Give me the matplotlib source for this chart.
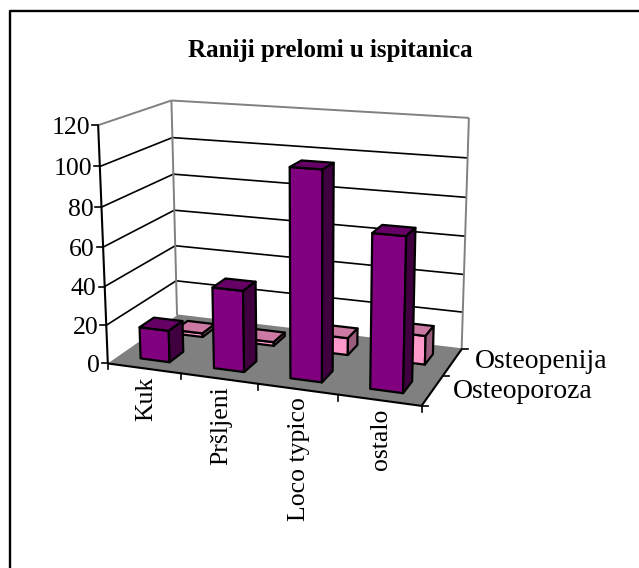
#Excel style 3D column chart, drawn on a plain axes through a fitted projection
import numpy as np
import matplotlib
matplotlib.use('Agg')
import matplotlib.pyplot as plt
from matplotlib.patches import Polygon

plt.rcParams['font.family'] = ['Liberation Serif', 'DejaVu Sans']

#Chart data
categories = ['Kuk', 'Pršljeni', 'Loco typico', 'ostalo']
series_names = ['Osteoporoza', 'Osteopenija']
osteoporoza = [16.5, 41.5, 104, 76]
osteopenija = [2, 2, 9, 15]
value_ticks = [0, 20, 40, 60, 80, 100, 120]
chart_title = 'Raniji prelomi u ispitanica'

#Colours (front, top, side)
purple = ('#800080', '#660066', '#400040')
pink = ('#FF99CC', '#CC7AA3', '#995C7A')

#Corners of the plot box: (category, depth, value) -> pixel
n_cat = len(categories)
n_ser = len(series_names)
v_max = value_ticks[-1]
box = [((0, 0, 0), (108, 364)),
       ((n_cat, 0, 0), (421, 406)),
       ((n_cat, n_ser, 0), (462, 349)),
       ((0, n_ser, 0), (177, 315)),
       ((0, 0, v_max), (98.5, 124.5)),
       ((0, n_ser, v_max), (171, 101)),
       ((n_cat, n_ser, v_max), (469, 118))]


def fit_camera(pairs):
    #Least squares fit of a 3x4 projective matrix
    A, b = [], []
    for (x, y, z), (u, v) in pairs:
        A.append([x, y, z, 1, 0, 0, 0, 0, -u*x, -u*y, -u*z])
        A.append([0, 0, 0, 0, x, y, z, 1, -v*x, -v*y, -v*z])
        b += [u, v]
    p = np.linalg.lstsq(np.array(A, float), np.array(b, float), rcond=None)[0]
    return np.append(p, 1).reshape(3, 4)


P = fit_camera(box)


def pr(x, y, z):
    q = P @ np.array([x, y, z, 1.0])
    return q[0]/q[2], q[1]/q[2]


fig = plt.figure(figsize=(6.39, 5.68), dpi=100)
ax = fig.add_axes([0, 0, 1, 1])
ax.set_xlim(0, 639)
ax.set_ylim(568, 0)
ax.axis('off')


def face(points, color, z=2, lw=1.6):
    ax.add_patch(Polygon([pr(*p) for p in points], closed=True, facecolor=color,
                         edgecolor='black', linewidth=lw, joinstyle='round', zorder=z))


def line3d(a, b, color='black', lw=1.2, z=1):
    p, q = pr(*a), pr(*b)
    ax.plot([p[0], q[0]], [p[1], q[1]], color=color, linewidth=lw, zorder=z,
            solid_capstyle='butt')


def bar(cat, slot, value, colors):
    x0, x1 = cat + 0.3, cat + 0.7
    y0, y1 = slot + 0.3, slot + 0.7
    z = 3 + slot*-1 + 1
    face([(x0, y0, 0), (x1, y0, 0), (x1, y0, value), (x0, y0, value)], colors[0], z)
    face([(x0, y0, value), (x1, y0, value), (x1, y1, value), (x0, y1, value)], colors[1], z)
    face([(x1, y0, 0), (x1, y1, 0), (x1, y1, value), (x1, y0, value)], colors[2], z)


#Frame, only top and left are inside the picture
ax.plot([639, 10, 10], [10.5, 10.5, 568], color='black', linewidth=1.7, zorder=0)

#Floor
ax.add_patch(Polygon([pr(0, 0, 0), pr(n_cat, 0, 0), pr(n_cat, n_ser, 0), pr(0, n_ser, 0)],
                     closed=True, facecolor='#808080', edgecolor='none', zorder=1))

#Gridlines on both walls
for v in value_ticks[1:-1]:
    line3d((0, 0, v), (0, n_ser, v))
    line3d((0, n_ser, v), (n_cat, n_ser, v))

#Wall edges
line3d((0, 0, v_max), (0, n_ser, v_max), color='#808080', lw=1.4)
line3d((0, n_ser, v_max), (n_cat, n_ser, v_max), color='#808080', lw=1.4)
line3d((0, n_ser, 0), (0, n_ser, v_max), color='#808080', lw=1.4)
line3d((n_cat, n_ser, 0), (n_cat, n_ser, v_max), color='#808080', lw=1.4)
line3d((0, n_ser, 0), (n_cat, n_ser, 0), color='#808080', lw=1.4)

#Bars, back row first
for i in range(n_cat):
    bar(i, 1, osteopenija[i], pink)
for i in range(n_cat):
    bar(i, 0, osteoporoza[i], purple)

#Axis lines
line3d((0, 0, 0), (0, 0, v_max), lw=1.5, z=8)
line3d((0, 0, 0), (n_cat, 0, 0), lw=1.5, z=8)
line3d((n_cat, 0, 0), (n_cat, n_ser, 0), lw=1.5, z=8)

#Value axis ticks and labels
for v in value_ticks:
    px, py = pr(0, 0, v)
    ax.plot([px - 6, px], [py, py], color='black', linewidth=1.2, zorder=8)
    ax.text(px - 8, py, str(v), fontsize=18.5, ha='right', va='center_baseline', zorder=9)

#Category ticks and labels
for i in range(n_cat + 1):
    px, py = pr(i, 0, 0)
    ax.plot([px, px], [py, py + 6], color='black', linewidth=1.2, zorder=8)
for i, name in enumerate(categories):
    px, py = pr(i + 0.5, 0, 0)
    ax.text(px + 2, py + 8, name, fontsize=18.5, rotation=90, ha='center', va='top', zorder=9)

#Series ticks and labels
for j in range(n_ser + 1):
    px, py = pr(n_cat, j, 0)
    ax.plot([px, px + 6], [py, py], color='black', linewidth=1.2, zorder=8)
label_x = [453, 475]
label_y = [392, 361]
for j, name in enumerate(series_names):
    ax.text(label_x[j], label_y[j], name, fontsize=20, ha='left', va='center', zorder=9)

ax.text(330, 50, chart_title, fontsize=18, fontweight='bold', ha='center', va='center')

fig.savefig('out.png', dpi=100)
